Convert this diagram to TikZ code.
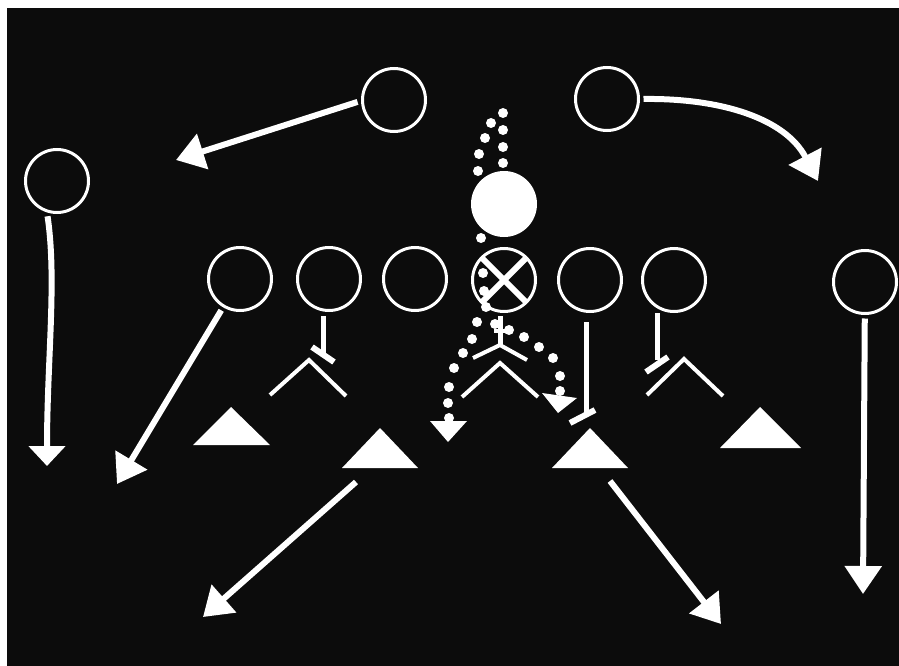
\documentclass[tikz,border=0pt]{standalone}
\usetikzlibrary{arrows.meta}
\definecolor{bg}{RGB}{12,12,12}
\begin{document}
\begin{tikzpicture}[x=1pt,y=-1pt,
  player/.style={circle, draw=white, line width=3pt, minimum size=63pt, inner sep=0pt, outer sep=5pt},
  route/.style={draw=white, line width=6pt, -{Triangle[width=36pt,length=28pt]}},
  stem/.style={draw=white, line width=5pt},
  blockbar/.style={draw=white, line width=6pt},
  vee/.style={draw=white, line width=4pt},
  dot/.style={fill=white},
  defender/.style={fill=white}]
\useasboundingbox (0,0) rectangle (899,666);
\fill[white] (-5,-5) rectangle (905,672);
\fill[bg] (7,8) rectangle (905,672);

% players (circles)
\node[player] (C1) at (394,100) {};
\node[player] (C2) at (607,99) {};
\node[player] (C3) at (57,181) {};
\node[player] (C4) at (240,279) {};
\node[player] (C5) at (329,279) {};
\node[player] (C6) at (415,279) {};
\node[player] (CX) at (504,280) {};
\node[player] (C7) at (590,280) {};
\node[player] (C8) at (674,280) {};
\node[player] (C9) at (865,282) {};
\fill[white] (504,204) circle (33);
\coordinate (BALL) at (504,204);
\draw[white, line width=6pt] (CX.center) ++(-22,-22) -- ++(44,44);
\draw[white, line width=6pt] (CX.center) ++(22,-22) -- ++(-44,44);

% end points of routes
\coordinate (A1) at (176,160);
\coordinate (A2) at (818,181);
\coordinate (A3) at (47,466);
\coordinate (A4) at (117,484);
\coordinate (A9) at (863,594);
\coordinate (T2o) at (356,482);
\coordinate (T3o) at (610,481);
\coordinate (A10) at (203,617);
\coordinate (A11) at (721,624);

% routes
\draw[route] (C1.183) -- (A1);
\draw[route] (C2.east) .. controls (720,98) and (785,118) .. (A2);
\draw[route, -{Triangle[width=36pt,length=20pt]}] (C3.255) .. controls (57,280) and (47,360) .. (A3);
\draw[route] (C4) -- (A4);
\draw[route] (C9) -- (A9);
\draw[route] (T2o) -- (A10);
\draw[route] (T3o) -- (A11);

% defenders (triangles)
\coordinate (T1) at (231,430);
\coordinate (T2) at (380,452);
\coordinate (T3) at (590,452);
\coordinate (T4) at (760,432);
\fill[defender] (231,407) -- (270,445) -- (193,445) -- cycle;
\fill[defender] (380,428) -- (418,468) -- (342,468) -- cycle;
\fill[defender] (590,428) -- (628,468) -- (552,468) -- cycle;
\fill[defender] (760,407) -- (801,448) -- (720,448) -- cycle;

% blocks
\draw[stem] (323,316) -- (323,353);
\draw[blockbar] (312,347) -- (334,362);
\draw[vee] (270,395) -- (309,360) -- (346,396);

\draw[stem] (657,313) -- (657,360);
\draw[blockbar] (646,372) -- (668,357);
\draw[vee] (647,395) -- (684,359) -- (723,396);

\draw[stem] (586,322) -- (586,414);
\draw[blockbar] (570,423) -- (595,410);

% centre figure
\draw[stem] (500,316) -- (500,345);
\draw[white, line width=4pt] (494,331) -- (511,331);
\draw[vee] (473,358) -- (500,345) -- (527,360);
\draw[vee] (462,397) -- (500,363) -- (538,397);

% dotted paths
\foreach \p in {(491,123),(485,138),(479,154),(478,171),(481,238),(483,273),(484,291),(486,307),(477,322),(472,339),(463,353),(454,368),(449,387),(448,403),(449,418)}
  \fill[dot] \p circle (5);
\foreach \p in {(503,113),(503,130),(503,147),(503,163),(495,324),(509,330),(524,337),(539,347),(553,358),(560,376),(560,391)}
  \fill[dot] \p circle (5);
\fill[white] (430,421) -- (467,421) -- (448,442) -- cycle;
\fill[white] (542,393) -- (577,398) -- (558,413) -- cycle;
\end{tikzpicture}
\end{document}
